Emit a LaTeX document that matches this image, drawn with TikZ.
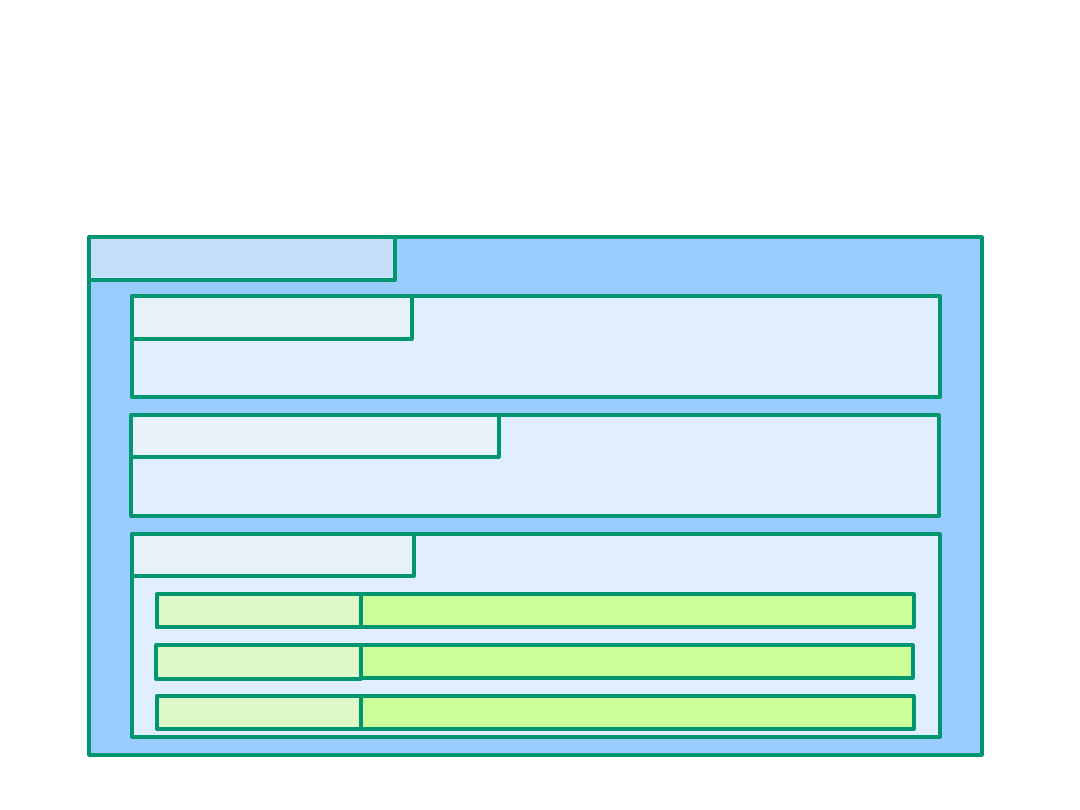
\documentclass[tikz,border=0pt]{standalone}
\usepackage{xcolor}
\usepackage{tikz}
\usetikzlibrary{fit}

\definecolor{edgegreen}{RGB}{0,150,112}
\definecolor{outerblue}{RGB}{153,204,255}
\definecolor{tabblue}{RGB}{196,223,247}
\definecolor{panelblue}{RGB}{224,238,255}
\definecolor{paneltab}{RGB}{232,240,248}
\definecolor{rowlight}{RGB}{221,249,199}
\definecolor{rowgreen}{RGB}{204,255,153}

\begin{document}
\begin{tikzpicture}[
  x=0.025cm, y=-0.025cm,
  every node/.style={draw=edgegreen, line width=2.2pt, line join=round, inner sep=0pt},
  outerbox/.style={fill=outerblue},
  outertab/.style={fill=tabblue},
  panel/.style={fill=panelblue},
  paneltabbox/.style={fill=paneltab},
  rowbox/.style={fill=rowgreen},
  rowlabel/.style={fill=rowlight}
]
\useasboundingbox (0,0) rectangle (1080,810);

\node[outerbox, fit={(89,237)(982,755)}] (system) {};
\node[outertab, fit={(89,237)(395,280)}] (systemtab) {};

\node[panel, fit={(132,296)(940,397)}] (panela) {};
\node[paneltabbox, fit={(132,296)(412,339)}] (panelatab) {};

\node[panel, fit={(131,415)(939,516)}] (panelb) {};
\node[paneltabbox, fit={(131,415)(499,457)}] (panelbtab) {};

\node[panel, fit={(132,534)(940,737)}] (panelc) {};
\node[paneltabbox, fit={(132,534)(414,576)}] (panelctab) {};

\node[rowbox, fit={(157,594)(914,627)}] (rowa) {};
\node[rowlabel, fit={(157,594)(361,627)}] (rowalabel) {};

\node[rowbox, fit={(157,645)(913,678)}] (rowb) {};
\node[rowlabel, fit={(156,645)(361,679)}] (rowblabel) {};

\node[rowbox, fit={(157,696)(914,729)}] (rowc) {};
\node[rowlabel, fit={(157,696)(361,729)}] (rowclabel) {};
\end{tikzpicture}
\end{document}
